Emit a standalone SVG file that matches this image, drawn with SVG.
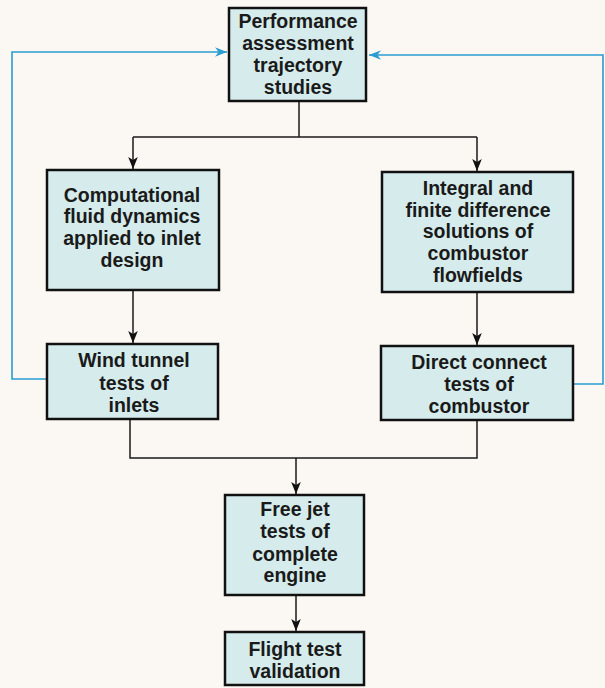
<svg xmlns="http://www.w3.org/2000/svg" width="605" height="688" viewBox="0 0 605 688">
<style>
.bg{fill:#fbf8f4}
.box{fill:#d6ecec;stroke:#111;stroke-width:2.5}
.t{font-family:"Liberation Sans",Arial,sans-serif;font-weight:bold;font-size:19.5px;fill:#1a1a1a;text-anchor:middle}
.k{fill:none;stroke:#1a1a1a;stroke-width:1.5}
.b{fill:none;stroke:#2a9cd0;stroke-width:1.6}
</style>
<defs>
<marker id="ak" markerWidth="12" markerHeight="16" refX="10" refY="5" orient="auto" markerUnits="userSpaceOnUse" viewBox="0 0 10 10">
<path d="M0,1 L10,5 L0,9 L2.5,5 Z" fill="#111"/>
</marker>
<marker id="ab" markerWidth="20" markerHeight="12" refX="10" refY="5" orient="auto" markerUnits="userSpaceOnUse" viewBox="0 0 10 10">
<path d="M0,1 L10,5 L0,9 L3,5 Z" fill="#2a9cd0"/>
</marker>
</defs>
<rect class="bg" x="0" y="0" width="605" height="688"/>
<g id="connectors">
<path class="k" d="M299,101 V137"/>
<path class="k" d="M133,137 H477"/>
<path class="k" d="M133,137 V169" marker-end="url(#ak)"/>
<path class="k" d="M477,137 V171" marker-end="url(#ak)"/>
<path class="k" d="M133,290 V343" marker-end="url(#ak)"/>
<path class="k" d="M477,292 V345" marker-end="url(#ak)"/>
<path class="k" d="M130,419 V458 H477 V420"/>
<path class="k" d="M296,458 V494" marker-end="url(#ak)"/>
<path class="k" d="M296,595 V631" marker-end="url(#ak)"/>
<path class="b" d="M47,379 H12 V52 H227" marker-end="url(#ab)"/>
<path class="b" d="M573,384 H603 V55 H369" marker-end="url(#ab)"/>
</g>
<g id="performance">
<rect class="box" x="229" y="8" width="137" height="93"/>
<text class="t" x="298" y="28">Performance</text>
<text class="t" x="298" y="50">assessment</text>
<text class="t" x="298" y="72">trajectory</text>
<text class="t" x="298" y="94">studies</text>
</g>
<g id="cfd">
<rect class="box" x="47" y="170" width="172" height="120"/>
<text class="t" x="132" y="202">Computational</text>
<text class="t" x="132" y="223">fluid dynamics</text>
<text class="t" x="132" y="245">applied to inlet</text>
<text class="t" x="132" y="267">design</text>
</g>
<g id="integral">
<rect class="box" x="382" y="172" width="191" height="120"/>
<text class="t" x="478" y="195">Integral and</text>
<text class="t" x="478" y="217">finite difference</text>
<text class="t" x="478" y="238">solutions of</text>
<text class="t" x="478" y="260">combustor</text>
<text class="t" x="478" y="282">flowfields</text>
</g>
<g id="windtunnel">
<rect class="box" x="47" y="344" width="171" height="75"/>
<text class="t" x="134" y="367">Wind tunnel</text>
<text class="t" x="134" y="390">tests of</text>
<text class="t" x="134" y="412">inlets</text>
</g>
<g id="directconnect">
<rect class="box" x="381" y="346" width="192" height="74"/>
<text class="t" x="479" y="369">Direct connect</text>
<text class="t" x="479" y="391">tests of</text>
<text class="t" x="479" y="413">combustor</text>
</g>
<g id="freejet">
<rect class="box" x="225" y="495" width="139" height="100"/>
<text class="t" x="295" y="516">Free jet</text>
<text class="t" x="295" y="538">tests of</text>
<text class="t" x="295" y="561">complete</text>
<text class="t" x="295" y="582">engine</text>
</g>
<g id="flight">
<rect class="box" x="225" y="632" width="139" height="53"/>
<text class="t" x="295" y="656">Flight test</text>
<text class="t" x="295" y="678">validation</text>
</g>
</svg>
